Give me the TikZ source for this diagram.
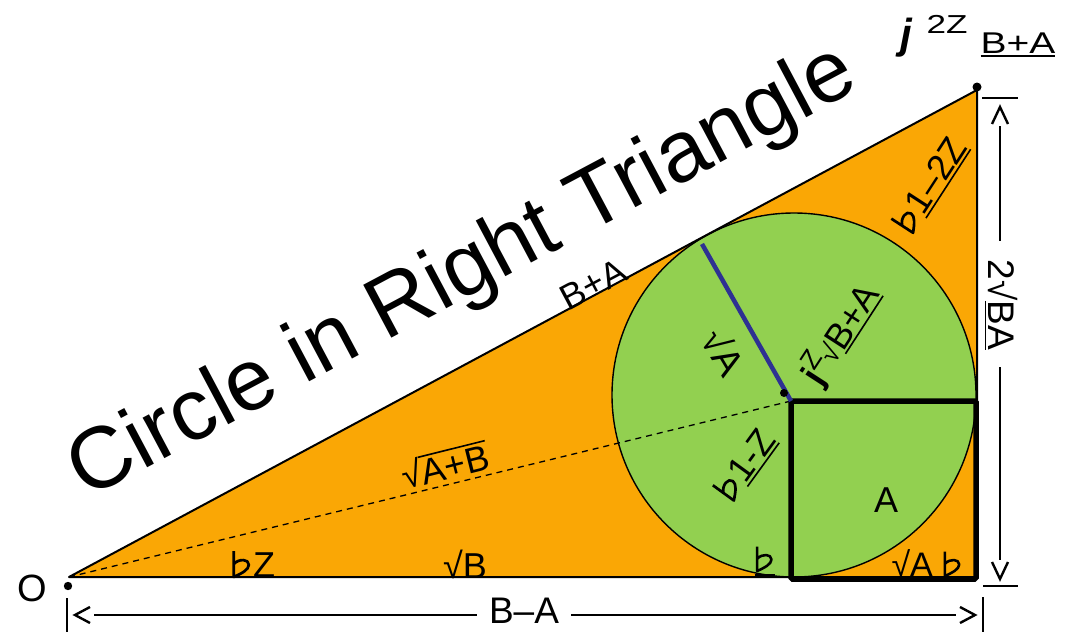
\documentclass[tikz,border=0pt]{standalone}
\usepackage{fontspec}
\setmainfont{Liberation Sans}
\definecolor{triorange}{RGB}{250,167,5}
\definecolor{circgreen}{RGB}{146,208,80}
\definecolor{radblue}{RGB}{46,49,146}
\newcommand\fl{\hspace{0.04em}\tikz[x=1em,y=1em,baseline=0pt,line width=0.075em,line join=round]{\draw (0,0.72) -- (0,0) .. controls (0.22,0.1) and (0.42,0.2) .. (0.42,0.34) .. controls (0.42,0.5) and (0.15,0.52) .. (0,0.36);}\hspace{0.08em}}
\newcommand\unl[1]{\vtop{\hbox{#1}\kern2pt\hrule height1.6pt}}
\newcommand\ovl[1]{\vbox{\hrule height1.6pt\kern3pt\hbox{#1}}}
\begin{document}
\begin{tikzpicture}[x=1pt,y=-1pt,
  lbl/.style={inner sep=0pt, font=\fontsize{36}{36}\selectfont},
  dimline/.style={line width=2pt},
  chev/.style={line width=2.4pt, line join=miter},
  dot/.style={fill=black}]
\useasboundingbox (0,0) rectangle (1072,632);
% key points
\coordinate (O) at (69,577);
\coordinate (R) at (977,577);
\coordinate (T) at (977,90);
\coordinate (C) at (794,395);
\coordinate (Q) at (791,401);
\coordinate (P) at (702,244);
\coordinate (S) at (976,579);
% triangle and circle
\fill[triorange] (O) -- (R) -- (T) -- cycle;
\filldraw[fill=circgreen, draw=black, line width=1.4pt] (C) circle[radius=182];
\draw[line width=2pt, line join=round] (O) -- (R) -- (T) -- cycle;
% square
\draw[line width=5.5pt, rounded corners=1.5pt] (Q) rectangle (S);
% dashed line and radius
\draw[line width=1.3pt, dash pattern=on 6pt off 5pt] (O) -- (Q);
\draw[radblue, line width=4.5pt] (P) -- (Q);
% dots
\fill[dot] (68,586) circle[radius=4.2];
\fill[dot] (977,87) circle[radius=4.5];
\fill[dot] (784,393) circle[radius=4];
% title
\node[rotate=28, anchor=base, inner sep=0pt, font=\fontsize{87}{87}\selectfont] (title) at (474,294) {Circle in Right Triangle};
% labels
\node[lbl, rotate=28] (hyp) at (593,284) {B+A};
\node[lbl, font=\fontsize{38}{38}\selectfont] (o) at (32,588) {O};
\node[lbl, anchor=base] (fz) at (253,577) {\fl Z};
\node[lbl, anchor=base] (sb) at (465,578) {√B};
\node[lbl, rotate=14] (sab) at (445,465) {√\ovl{A+B}};
\node[lbl, rotate=-59, font=\fontsize{38}{38}\selectfont] (sa) at (724,352) {√A};
\node[lbl, rotate=57] (jz) at (840,334) {{\bfseries j}\raisebox{14pt}{\fontsize{27}{27}\selectfont Z}{\fontsize{28}{28}\selectfont √}\unl{B+A}};
\node[lbl, rotate=54] (f1z) at (745,465) {\fl\unl{1-Z}};
\node[lbl, rotate=57] (f12z) at (930,185) {\fl\unl{1–2Z}};
\node[lbl] (a) at (886,500) {A};
\node[lbl, anchor=base, font=\fontsize{34}{34}\selectfont] (f) at (765,571) {\unl{\fl}};
\node[lbl, anchor=base, font=\fontsize{34}{34}\selectfont] (saf) at (926,576) {√A \fl};
\node[lbl, font=\fontsize{42}{42}\selectfont\bfseries\itshape] (tj) at (906,38) {j};
\node[lbl, font=\fontsize{26}{26}\selectfont] (t2z) at (947,24) {\scalebox{1.35}[1]{2Z}};
\node[lbl, anchor=base, font=\fontsize{30}{30}\selectfont] (tba) at (1018,53) {\unl{\scalebox{1.3}[1]{B+A}}};
\node[lbl, rotate=-90, font=\fontsize{37}{37}\selectfont] (dim) at (1001,305) {2√\unl{BA}};
\node[lbl, font=\fontsize{37}{37}\selectfont] (ba) at (524,611) {B–A};
% bottom dimension
\coordinate (bl1) at (67,598); \coordinate (bl2) at (67,632);
\coordinate (br1) at (983,597); \coordinate (br2) at (983,632);
\coordinate (la) at (75,615); \coordinate (ra) at (975,615);
\draw[dimline] (bl1) -- (bl2);
\draw[dimline] (br1) -- (br2);
\draw[chev] (90,607) -- (la) -- (90,623);
\draw[chev] (960,607) -- (ra) -- (960,623);
\draw[dimline] (94,615) -- ([xshift=-12pt]ba.west |- la);
\draw[dimline] ([xshift=12pt]ba.east |- ra) -- (956,615);
% right dimension
\coordinate (tb1) at (982,98); \coordinate (tb2) at (1018,98);
\coordinate (bb1) at (983,586); \coordinate (bb2) at (1018,586);
\coordinate (ta) at (1000,107); \coordinate (ba2) at (1000,579);
\draw[dimline] (tb1) -- (tb2);
\draw[dimline] (bb1) -- (bb2);
\draw[chev] (992,124) -- (ta) -- (1008,124);
\draw[chev] (992,562) -- (ba2) -- (1008,562);
\draw[dimline] (1000,126) -- (1000,241);
\draw[dimline] (1000,367) -- (1000,560);
\end{tikzpicture}
\end{document}
